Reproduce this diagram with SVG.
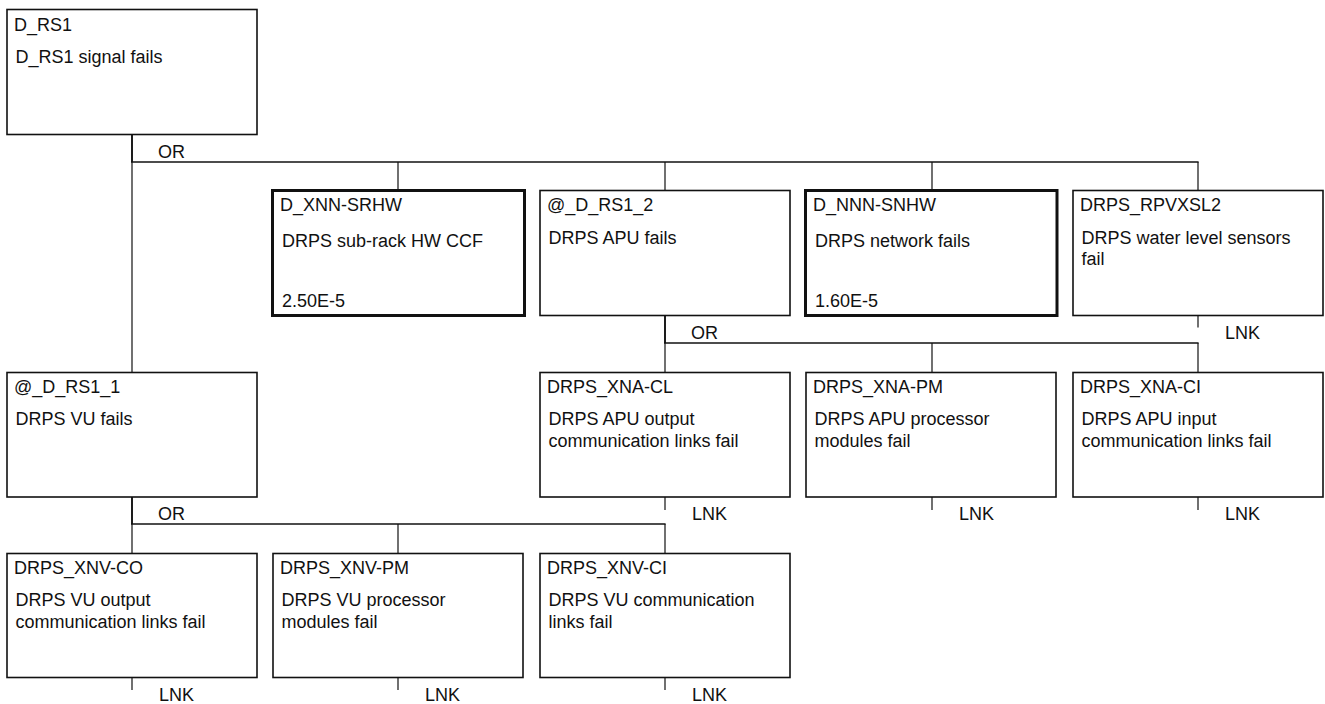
<svg xmlns="http://www.w3.org/2000/svg" width="1325" height="704" viewBox="0 0 1325 704">
<style>
text{font-family:"Liberation Sans",Arial,sans-serif;font-size:18px;fill:#111}
.b{fill:#fff;stroke:#111;stroke-width:1.6}
.t{fill:#fff;stroke:#111;stroke-width:3}
.up{stroke:#111;stroke-width:1.9;fill:none}
.bus{stroke:#111;stroke-width:1.5;fill:none}
.dr{stroke:#111;stroke-width:1.2;fill:none}
</style>
<rect width="1325" height="704" fill="#fff"/>
<g id="connectors">
<line class="up" x1="132" y1="134.5" x2="132" y2="162"/>
<line class="bus" x1="131" y1="162" x2="1198.6" y2="162"/>
<line class="dr" x1="132" y1="162" x2="132" y2="372.5"/>
<line class="dr" x1="398" y1="162" x2="398" y2="190"/>
<line class="dr" x1="665" y1="162" x2="665" y2="190.5"/>
<line class="dr" x1="932" y1="162" x2="932" y2="190"/>
<line class="dr" x1="1198" y1="162" x2="1198" y2="190.5"/>
<text x="158" y="157.5">OR</text>
<line class="up" x1="665" y1="315.5" x2="665" y2="343"/>
<line class="bus" x1="664" y1="343" x2="1198.6" y2="343"/>
<line class="dr" x1="665" y1="343" x2="665" y2="372.5"/>
<line class="dr" x1="932" y1="343" x2="932" y2="372.5"/>
<line class="dr" x1="1198" y1="343" x2="1198" y2="372.5"/>
<text x="691" y="338.5">OR</text>
<line class="up" x1="132" y1="497" x2="132" y2="524"/>
<line class="bus" x1="131" y1="524" x2="665.6" y2="524"/>
<line class="dr" x1="132" y1="524" x2="132" y2="553.5"/>
<line class="dr" x1="398" y1="524" x2="398" y2="553.5"/>
<line class="dr" x1="665" y1="524" x2="665" y2="553.5"/>
<text x="158" y="519.5">OR</text>
<line class="dr" x1="1198" y1="315.5" x2="1198" y2="327.5"/>
<text x="1225" y="338.5">LNK</text>
<line class="dr" x1="665" y1="497" x2="665" y2="510"/>
<text x="692" y="520">LNK</text>
<line class="dr" x1="932" y1="497" x2="932" y2="510"/>
<text x="959" y="520">LNK</text>
<line class="dr" x1="1198" y1="497" x2="1198" y2="510"/>
<text x="1225" y="520">LNK</text>
<line class="dr" x1="132" y1="677.5" x2="132" y2="690"/>
<text x="159" y="700.5">LNK</text>
<line class="dr" x1="398" y1="677.5" x2="398" y2="690"/>
<text x="425" y="700.5">LNK</text>
<line class="dr" x1="665" y1="677.5" x2="665" y2="690"/>
<text x="692" y="700.5">LNK</text>
</g>
<g id="D_RS1">
<rect class="b" x="7" y="9.5" width="250" height="125"/>
<text x="14" y="30.5">D_RS1</text>
<text x="15.5" y="63">D_RS1 signal fails</text>
</g>
<g id="D_XNN-SRHW">
<rect class="t" x="272.5" y="190.5" width="252" height="125"/>
<text x="280" y="211">D_XNN-SRHW</text>
<text x="282" y="247">DRPS sub-rack HW CCF</text>
<text x="282" y="306.5">2.50E-5</text>
</g>
<g id="D_RS1_2">
<rect class="b" x="540" y="190.5" width="250" height="125"/>
<text x="547" y="211">@_D_RS1_2</text>
<text x="548.5" y="244">DRPS APU fails</text>
</g>
<g id="D_NNN-SNHW">
<rect class="t" x="805.5" y="190.5" width="251.5" height="125"/>
<text x="813" y="211">D_NNN-SNHW</text>
<text x="815" y="247">DRPS network fails</text>
<text x="815" y="306.5">1.60E-5</text>
</g>
<g id="DRPS_RPVXSL2">
<rect class="b" x="1073" y="190.5" width="250" height="125"/>
<text x="1080" y="211">DRPS_RPVXSL2</text>
<text x="1081.5" y="243.5">DRPS water level sensors</text>
<text x="1081.5" y="264.5">fail</text>
</g>
<g id="D_RS1_1">
<rect class="b" x="7" y="372.5" width="250" height="124.5"/>
<text x="14" y="392.5">@_D_RS1_1</text>
<text x="15.5" y="425">DRPS VU fails</text>
</g>
<g id="DRPS_XNA-CL">
<rect class="b" x="540" y="372.5" width="250" height="124.5"/>
<text x="547" y="392.5">DRPS_XNA-CL</text>
<text x="548.5" y="425">DRPS APU output</text>
<text x="548.5" y="447">communication links fail</text>
</g>
<g id="DRPS_XNA-PM">
<rect class="b" x="806" y="372.5" width="250" height="124.5"/>
<text x="813" y="392.5">DRPS_XNA-PM</text>
<text x="814.5" y="425">DRPS APU processor</text>
<text x="814.5" y="447">modules fail</text>
</g>
<g id="DRPS_XNA-CI">
<rect class="b" x="1073" y="372.5" width="250" height="124.5"/>
<text x="1080" y="392.5">DRPS_XNA-CI</text>
<text x="1081.5" y="425">DRPS APU input</text>
<text x="1081.5" y="447">communication links fail</text>
</g>
<g id="DRPS_XNV-CO">
<rect class="b" x="7" y="553.5" width="250" height="124"/>
<text x="14" y="573.5">DRPS_XNV-CO</text>
<text x="15.5" y="606">DRPS VU output</text>
<text x="15.5" y="628">communication links fail</text>
</g>
<g id="DRPS_XNV-PM">
<rect class="b" x="273" y="553.5" width="250" height="124"/>
<text x="280" y="573.5">DRPS_XNV-PM</text>
<text x="281.5" y="606">DRPS VU processor</text>
<text x="281.5" y="628">modules fail</text>
</g>
<g id="DRPS_XNV-CI">
<rect class="b" x="540" y="553.5" width="250" height="124"/>
<text x="547" y="573.5">DRPS_XNV-CI</text>
<text x="548.5" y="606">DRPS VU communication</text>
<text x="548.5" y="628">links fail</text>
</g>
</svg>
